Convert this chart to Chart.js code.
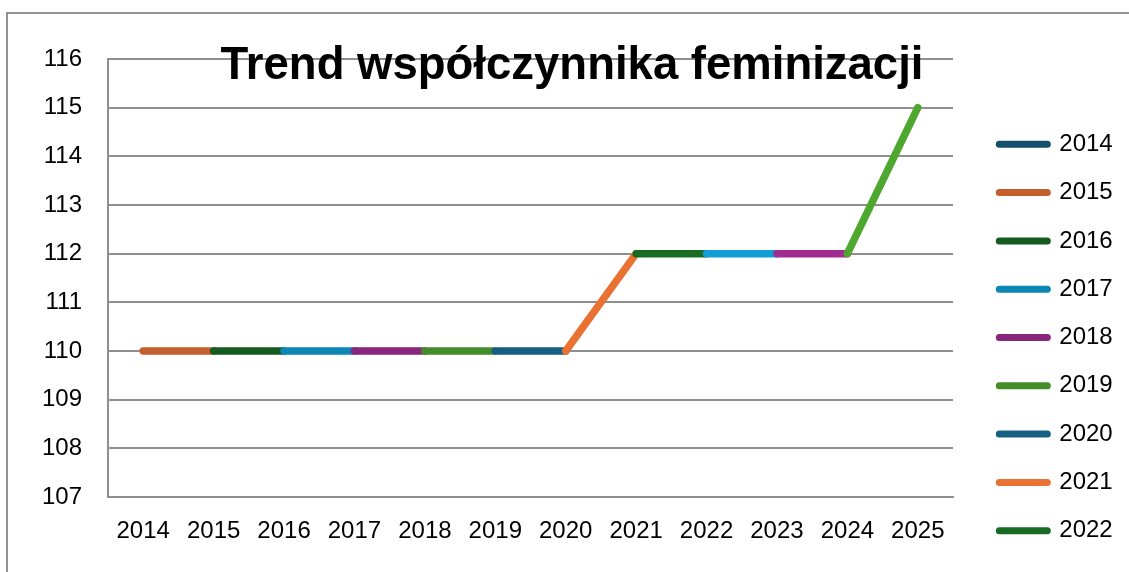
<!DOCTYPE html>
<html>
<head>
<meta charset="utf-8">
<script src="https://cdn.jsdelivr.net/npm/chart.js@4"></script>
<style>
  html, body { margin: 0; padding: 0; background: #ffffff; }
  canvas { display: block; }
</style>
</head>
<body>
<canvas id="c" width="1129" height="572"></canvas>
<script>
const chartTitle = 'Trend współczynnika feminizacji';
const categories = ['2014','2015','2016','2017','2018','2019','2020','2021','2022','2023','2024','2025'];
const values = [110, 110, 110, 110, 110, 110, 110, 112, 112, 112, 112, 115];
// colour of each year's point (Excel "vary colours by point")
const pointColors = ['#12506E','#C45E2B','#155B1F','#0C86B5','#88257D','#438E28','#156082','#E97132','#196B24','#0F9ED5','#A02B93','#4EA72E'];
const legendYears = ['2014','2015','2016','2017','2018','2019','2020','2021','2022'];
const yTicksMin = 107;
const yTicksMax = 116;

const FONT = '"Liberation Sans", Arial, sans-serif';
const GRID = '#8f8f8f';

const frameAndTitle = {
  id: 'frameAndTitle',
  beforeDraw(chart) {
    const ctx = chart.ctx;
    ctx.save();
    ctx.strokeStyle = '#929292';
    ctx.lineWidth = 2;
    ctx.beginPath();
    ctx.moveTo(7, 572);
    ctx.lineTo(7, 13);
    ctx.lineTo(1129, 13);
    ctx.stroke();
    ctx.restore();
  },
  afterDraw(chart) {
    const ctx = chart.ctx;
    ctx.save();
    ctx.font = 'bold 45.5px ' + FONT;
    ctx.fillStyle = '#000000';
    ctx.textAlign = 'center';
    ctx.textBaseline = 'alphabetic';
    ctx.fillText(chartTitle, 572, 79);
    ctx.restore();
  }
};

new Chart(document.getElementById('c'), {
  type: 'line',
  data: {
    labels: categories,
    datasets: [{
      label: chartTitle,
      data: values,
      borderWidth: 7.5,
      borderCapStyle: 'round',
      borderJoinStyle: 'round',
      pointRadius: 0,
      pointHoverRadius: 0,
      tension: 0,
      borderColor: pointColors[0],
      segment: {
        borderColor: c => pointColors[c.p1DataIndex]
      }
    }]
  },
  options: {
    responsive: false,
    animation: false,
    devicePixelRatio: 1,
    layout: { padding: { top: 59, left: 0, right: 6.3, bottom: 0 } },
    plugins: {
      tooltip: { enabled: false },
      title: { display: false },
      legend: {
        display: true,
        position: 'right',
        align: 'start',
        title: { display: true, text: '', padding: { top: 37, bottom: 0 }, font: { size: 12, lineHeight: 1 } },
        labels: {
          usePointStyle: true,
          pointStyleWidth: 48,
          padding: 24.3,
          color: '#000000',
          font: { family: FONT, size: 24 },
          generateLabels: () => legendYears.map((y, i) => ({
            text: y,
            fillStyle: pointColors[i],
            strokeStyle: pointColors[i],
            fontColor: '#000000',
            lineWidth: 7,
            lineCap: 'round',
            pointStyle: 'line',
            hidden: false,
            datasetIndex: 0
          }))
        }
      }
    },
    scales: {
      x: {
        type: 'category',
        offset: true,
        grid: { display: false, drawTicks: false },
        border: { display: true, color: GRID, width: 2 },
        ticks: { color: '#000000', font: { family: FONT, size: 24 }, padding: 20, maxRotation: 0, autoSkip: false },
        afterFit: s => { s.height = 75; }
      },
      y: {
        type: 'linear',
        min: yTicksMin,
        max: yTicksMax,
        grid: { color: GRID, lineWidth: 2, drawTicks: false },
        border: { display: true, color: GRID, width: 2 },
        ticks: { stepSize: 1, color: '#000000', font: { family: FONT, size: 24 }, padding: 26 },
        afterFit: s => { s.width = 108; }
      },
      spacer: {
        type: 'linear',
        position: 'right',
        display: true,
        grid: { display: false, drawTicks: false },
        border: { display: false },
        ticks: { display: false },
        afterFit: s => { s.width = 22; }
      }
    }
  },
  plugins: [frameAndTitle]
});
</script>
</body>
</html>
